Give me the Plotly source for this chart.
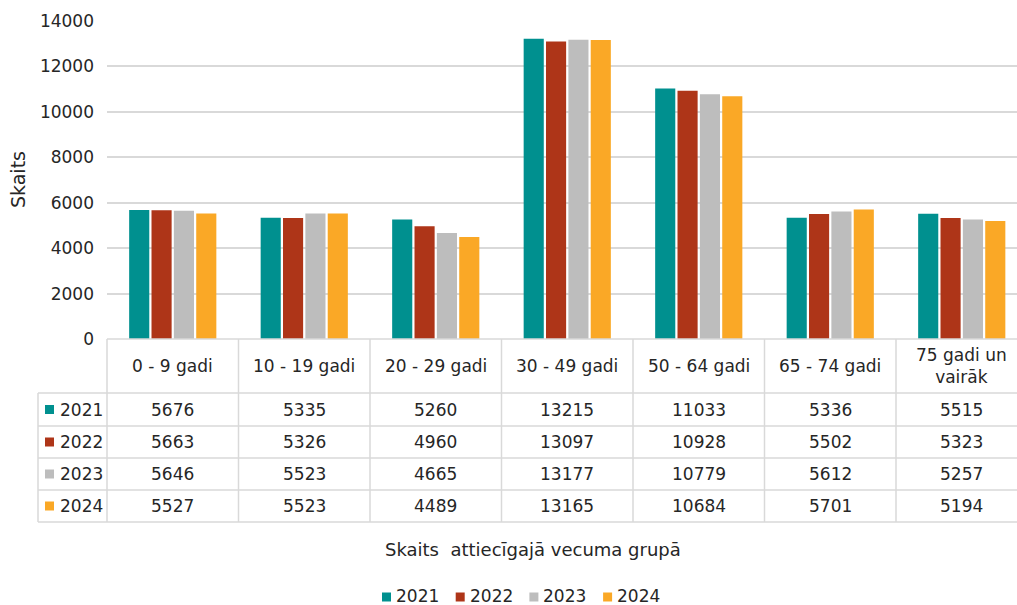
import plotly.graph_objects as go

categories = ["0 - 9 gadi", "10 - 19 gadi", "20 - 29 gadi", "30 - 49 gadi",
              "50 - 64 gadi", "65 - 74 gadi", "75 gadi un<br>vairāk"]
years = ["2021", "2022", "2023", "2024"]
v2021 = [5676, 5335, 5260, 13215, 11033, 5336, 5515]
v2022 = [5663, 5326, 4960, 13097, 10928, 5502, 5323]
v2023 = [5646, 5523, 4665, 13177, 10779, 5612, 5257]
v2024 = [5527, 5523, 4489, 13165, 10684, 5701, 5194]
series = [v2021, v2022, v2023, v2024]
colors = ["#00908F", "#AE3518", "#BDBDBD", "#FAA826"]
y_ticks = [0, 2000, 4000, 6000, 8000, 10000, 12000, 14000]

FONT = "DejaVu Sans"
TXT = "#262626"
W, H = 1017, 605
L, T, R, B = 107, 21, 1017, 339  # plot area in px
pw, ph = R - L, B - T
colw = 131.5
xmax = -0.5 + pw / colw

def py2p(py):
    return (B - py) / ph

def px2p(px):
    return (px - L) / pw

def cat2p(c):
    return (c + 0.5) * colw / pw

fig = go.Figure()
idx = list(range(len(categories)))
for name, vals, c in zip(years, series, colors):
    fig.add_trace(go.Bar(x=idx, y=vals, name=name, showlegend=False,
                         marker=dict(color=c, line=dict(width=0))))

shapes = []
annotations = []
grid = "#D9D9D9"
header_top, header_bot = 339, 393
row_edges = [393, 426, 458, 490, 522]
lw = 1.5

def hline(x0, x1, py):
    shapes.append(dict(type="line", xref="paper", yref="paper", x0=x0, x1=x1,
                       y0=py2p(py), y1=py2p(py), line=dict(color=grid, width=lw)))

def vline(x, py0, py1):
    shapes.append(dict(type="line", xref="paper", yref="paper", x0=x, x1=x,
                       y0=py2p(py0), y1=py2p(py1), line=dict(color=grid, width=lw)))

hline(0, 1, header_top)
for e in row_edges:
    hline(px2p(38), 1, e)
for k in range(len(categories) + 1):
    xb = cat2p(k - 0.5)
    if xb > 1:
        break
    vline(xb, header_top, row_edges[-1])
vline(px2p(38), row_edges[0], row_edges[-1])

def txt(x, y, s, size=17, anchor="center", angle=0):
    annotations.append(dict(x=x, y=y, xref="paper", yref="paper", text=s, showarrow=False,
                            font=dict(family=FONT, size=size, color=TXT), textangle=angle,
                            xanchor=anchor, yanchor="middle"))

for i, c in enumerate(categories):
    txt(cat2p(i), py2p((header_top + header_bot) / 2), c)

for r, (name, vals, col) in enumerate(zip(years, series, colors)):
    pyc = (row_edges[r] + row_edges[r + 1]) / 2
    for i, v in enumerate(vals):
        txt(cat2p(i), py2p(pyc), str(v))
    shapes.append(dict(type="rect", xref="paper", yref="paper", x0=px2p(45), x1=px2p(54),
                       y0=py2p(pyc + 4.5), y1=py2p(pyc - 4.5), fillcolor=col, line=dict(width=0)))
    txt(px2p(58), py2p(pyc), name, anchor="left")

txt(px2p(533), py2p(549), "Skaits  attiecīgajā vecuma grupā", size=18)
txt(px2p(18), py2p(180), "Skaits", size=19, angle=-90)

# bottom legend
leg_y = 596
for j, (name, col) in enumerate(zip(years, colors)):
    sx = 382 + j * 73.7
    shapes.append(dict(type="rect", xref="paper", yref="paper", x0=px2p(sx), x1=px2p(sx + 9),
                       y0=py2p(leg_y + 5.5), y1=py2p(leg_y - 3.5), fillcolor=col, line=dict(width=0)))
    txt(px2p(sx + 12), py2p(leg_y), name, anchor="left")

fig.update_layout(
    width=W, height=H,
    margin=dict(l=L, r=W - R, t=T, b=H - B, pad=0, autoexpand=False),
    paper_bgcolor="white", plot_bgcolor="white",
    barmode="group", bargap=0.32, bargroupgap=0.1,
    font=dict(family=FONT, size=17, color=TXT),
    showlegend=False,
    xaxis=dict(range=[-0.5, xmax], showticklabels=False, showgrid=False, zeroline=False,
               showline=False, ticks="", fixedrange=True, automargin=False),
    yaxis=dict(range=[0, 14000], tickvals=y_ticks, ticktext=[str(v) for v in y_ticks],
               showgrid=True, gridcolor=grid, gridwidth=lw, automargin=False,
               zeroline=False, showline=False, ticks="", ticklabelstandoff=12,
               tickfont=dict(family=FONT, size=17, color=TXT)),
    shapes=shapes, annotations=annotations,
)

fig.write_html("out.html", config={"displayModeBar": False},
               post_script="document.body.style.margin='0';document.body.style.overflow='hidden';")
